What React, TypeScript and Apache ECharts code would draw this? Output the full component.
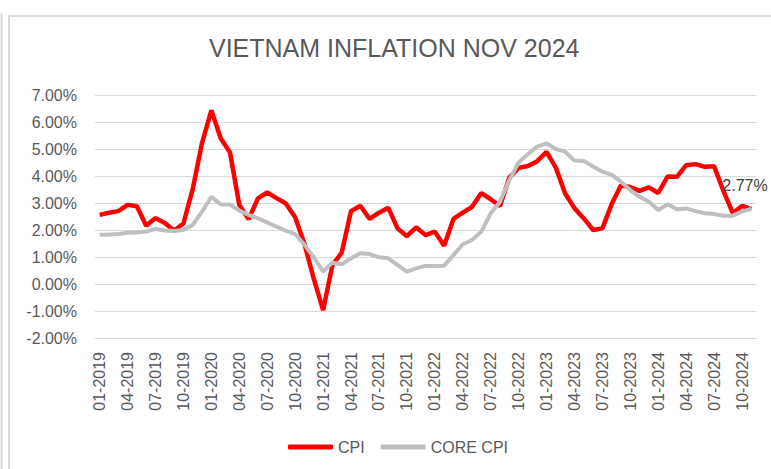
import React, { useEffect, useRef } from "react";
import * as echarts from "echarts";

const years = ["2019", "2020", "2021", "2022", "2023", "2024"];
const months = ["01", "02", "03", "04", "05", "06", "07", "08", "09", "10", "11", "12"];
const categories: string[] = [];
years.forEach((y) => months.forEach((m) => categories.push(`${m}-${y}`)));
categories.splice(71);

const cpi = [
  2.56, 2.64, 2.7, 2.93, 2.88, 2.16, 2.44, 2.26, 1.98, 2.24, 3.52, 5.23,
  6.43, 5.4, 4.87, 2.93, 2.4, 3.17, 3.39, 3.18, 2.98, 2.47, 1.48, 0.19,
  -0.97, 0.7, 1.16, 2.7, 2.9, 2.41, 2.64, 2.82, 2.06, 1.77, 2.1, 1.81,
  1.94, 1.42, 2.41, 2.64, 2.86, 3.37, 3.14, 2.89, 3.94, 4.3, 4.37, 4.55,
  4.89, 4.31, 3.35, 2.81, 2.43, 2.0, 2.06, 2.96, 3.66, 3.59, 3.45, 3.58,
  3.37, 3.98, 3.97, 4.4, 4.44, 4.34, 4.36, 3.45, 2.63, 2.89, 2.77,
];

const coreCpi = [
  1.82, 1.83, 1.85, 1.9, 1.91, 1.94, 2.04, 1.98, 1.96, 2.0, 2.19, 2.68,
  3.23, 2.95, 2.94, 2.72, 2.56, 2.43, 2.28, 2.12, 1.98, 1.85, 1.45, 0.99,
  0.46, 0.79, 0.73, 0.95, 1.14, 1.11, 0.99, 0.95, 0.7, 0.46, 0.58, 0.67,
  0.67, 0.68, 1.07, 1.47, 1.63, 1.94, 2.62, 3.05, 3.85, 4.5, 4.81, 5.09,
  5.21, 5.0, 4.9, 4.57, 4.56, 4.35, 4.16, 4.04, 3.79, 3.48, 3.23, 3.05,
  2.74, 2.95, 2.77, 2.8, 2.7, 2.62, 2.59, 2.53, 2.53, 2.68, 2.79,
];

const FONT = "'Liberation Sans', Arial, sans-serif";
const TEXT = "#595959";
const GRID = "#d9d9d9";

export default function App() {
  const ref = useRef<HTMLDivElement>(null);
  useEffect(() => {
    if (!ref.current) return;
    const chart = echarts.init(ref.current, undefined, { renderer: "svg" });
    chart.setOption({
      animation: false,
      backgroundColor: "#ffffff",
      textStyle: { fontFamily: FONT },
      title: {
        text: "VIETNAM INFLATION NOV 2024",
        left: 209,
        top: 35,
        padding: 0,
        textStyle: { fontFamily: FONT, fontSize: 25, fontWeight: "normal", color: TEXT },
      },
      graphic: [
        { type: "line", shape: { x1: 1.5, y1: 13, x2: 1.5, y2: 469 }, style: { stroke: GRID, lineWidth: 2 } },
        { type: "rect", shape: { x: 9, y: 16, width: 800, height: 500 }, style: { stroke: GRID, lineWidth: 2, fill: "none" } },
      ],
      legend: {
        data: ["CPI", "CORE CPI"],
        left: 283,
        top: 434,
        itemWidth: 45,
        itemHeight: 5,
        itemGap: 16,
        icon: "roundRect",
        textStyle: { fontFamily: FONT, fontSize: 16, color: TEXT },
      },
      grid: { left: 95, right: 15, top: 95, bottom: 131, containLabel: false },
      xAxis: {
        type: "category",
        data: categories,
        boundaryGap: true,
        axisLine: { onZero: false, lineStyle: { color: GRID, width: 1 } },
        axisTick: { show: false },
        axisLabel: { interval: 2, rotate: 90, margin: 14, fontSize: 16, color: TEXT, fontFamily: FONT },
      },
      yAxis: {
        type: "value",
        min: -2,
        max: 7,
        interval: 1,
        axisLine: { show: false },
        axisTick: { show: false },
        splitLine: { lineStyle: { color: GRID, width: 1 } },
        axisLabel: {
          margin: 18,
          fontSize: 16,
          color: TEXT,
          fontFamily: FONT,
          formatter: (v: number) => v.toFixed(2) + "%",
        },
      },
      series: [
        {
          name: "CPI",
          type: "line",
          data: cpi,
          showSymbol: false,
          color: "#ff0000",
          lineStyle: { color: "#ff0000", width: 4.5 },
          endLabel: {
            show: true,
            formatter: (p: any) => Number(p.value).toFixed(2) + "%",
            offset: [-37, -24],
            fontSize: 16,
            color: "#404040",
            fontFamily: FONT,
          },
        },
        {
          name: "CORE CPI",
          type: "line",
          data: coreCpi,
          showSymbol: false,
          color: "#bfbfbf",
          lineStyle: { color: "#bfbfbf", width: 4 },
        },
      ],
    });
    return () => chart.dispose();
  }, []);
  return <div ref={ref} style={{ position: "absolute", left: 0, top: 0, width: 771, height: 469 }} />;
}
